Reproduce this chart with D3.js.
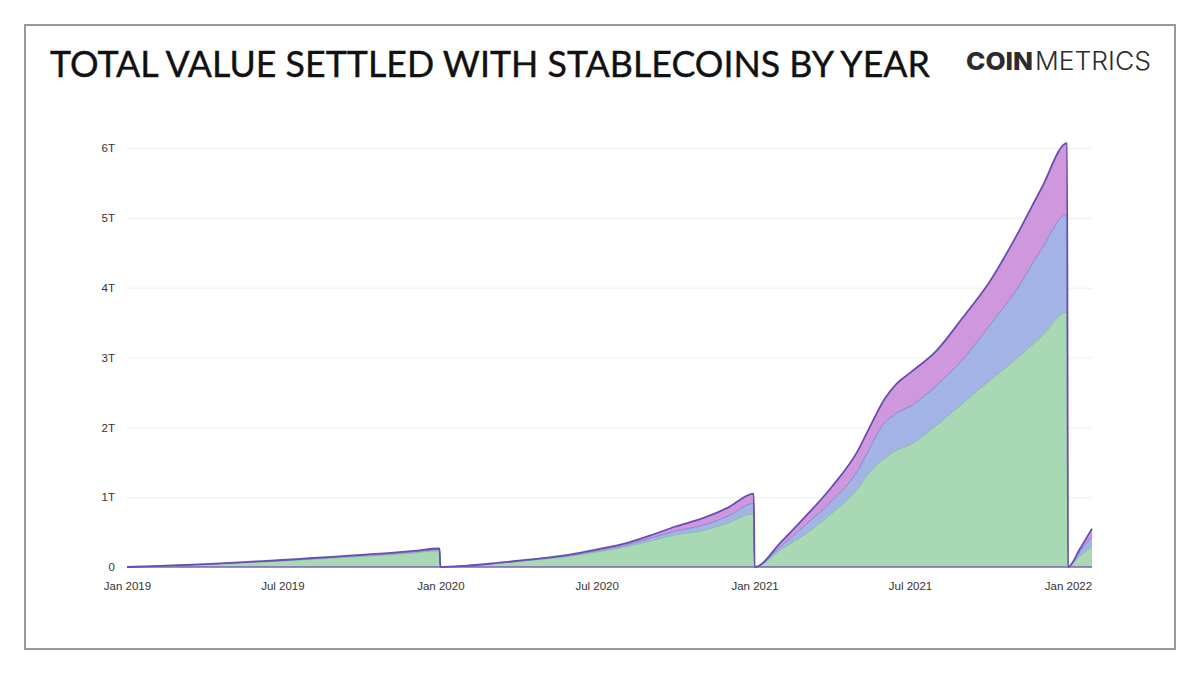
<!DOCTYPE html>
<html>
<head>
<meta charset="utf-8">
<script src="https://cdn.jsdelivr.net/npm/d3@7"></script>
<style>
  body { margin: 0; background: #fff; }
  .axis text { font-family: "Liberation Sans", Arial, sans-serif; font-size: 11.5px; fill: #333; }
  .axis .domain { display: none; }
  .grid line { stroke: #efefef; }
  .grid .domain { display: none; }
</style>
</head>
<body>
<div id="chart"></div>
<script>
// values, cumulative within each year (trillions USD)
let dates = [
    '2019-01-01', '2019-02-01', '2019-03-01', '2019-04-01', '2019-05-01', '2019-06-01', '2019-07-01',
    '2019-08-01', '2019-09-01', '2019-10-01', '2019-11-01', '2019-12-01', '2019-12-31',
    '2020-01-01', '2020-02-01', '2020-03-01', '2020-04-01', '2020-05-01', '2020-06-01', '2020-07-01',
    '2020-08-01', '2020-09-01', '2020-10-01', '2020-11-01', '2020-12-01', '2020-12-31',
    '2021-01-01', '2021-02-01', '2021-03-01', '2021-04-01', '2021-05-01', '2021-05-15', '2021-06-01',
    '2021-06-15', '2021-07-01', '2021-08-01', '2021-09-01', '2021-10-01', '2021-11-01', '2021-12-01', '2021-12-31',
    '2022-01-01', '2022-01-15', '2022-01-29'
];

let greenSeries = [
    0, 0.009, 0.02, 0.033, 0.05, 0.068, 0.085, 0.107, 0.129, 0.151, 0.173, 0.2, 0.232,
    0, 0.018, 0.044, 0.078, 0.112, 0.155, 0.215, 0.28, 0.37, 0.46, 0.52, 0.63, 0.76,
    0, 0.25, 0.47, 0.77, 1.12, 1.36, 1.55, 1.67, 1.75, 2.03, 2.35, 2.66, 2.97, 3.30, 3.65,
    0, 0.16, 0.29
];

let blueSeries = [
    0, 0.0015, 0.002, 0.003, 0.005, 0.006, 0.008, 0.009, 0.011, 0.012, 0.014, 0.015, 0.016,
    0, 0.001, 0.003, 0.006, 0.009, 0.013, 0.018, 0.025, 0.04, 0.055, 0.075, 0.10, 0.15,
    0, 0.05, 0.13, 0.18, 0.26, 0.34, 0.51, 0.53, 0.55, 0.57, 0.63, 0.79, 0.98, 1.25, 1.40,
    0, 0.06, 0.15
];

let purpleSeries = [
    0, 0.0015, 0.003, 0.004, 0.005, 0.006, 0.007, 0.009, 0.010, 0.012, 0.013, 0.015, 0.017,
    0, 0.001, 0.003, 0.006, 0.009, 0.012, 0.017, 0.025, 0.04, 0.065, 0.10, 0.12, 0.14,
    0, 0.06, 0.12, 0.20, 0.28, 0.30, 0.34, 0.42, 0.48, 0.50, 0.60, 0.62, 0.77, 0.87, 1.02,
    0, 0.04, 0.11
];

let yTicks = [0, 1, 2, 3, 4, 5, 6];
let xTicks = ['2019-01-01', '2019-07-01', '2020-01-01', '2020-07-01', '2021-01-01', '2021-07-01', '2022-01-01'];

let seriesKeys = ['green', 'blue', 'purple'];
let fills = { green: '#a8d9b4', blue: '#a3b3e6', purple: '#cf98dc' };
let edges = { green: '#86bf98', blue: '#7f8ad0', purple: '#6a4cb4' };

let config = {
    svg: { width: 1200, height: 674 },
    plot: { left: 127, right: 1092, top: 148, bottom: 567 }
};

let parseDate = d3.timeParse('%Y-%m-%d');

let rows = dates.map((d, i) => {
    return {
        date: parseDate(d),
        green: greenSeries[i],
        blue: blueSeries[i],
        purple: purpleSeries[i]
    };
});

let svg = d3.select('#chart')
    .append('svg')
        .attr('width', config.svg.width)
        .attr('height', config.svg.height);

// frame
svg.append('rect')
    .attr('x', 25)
    .attr('y', 25)
    .attr('width', 1150)
    .attr('height', 624)
    .attr('fill', '#fff')
    .attr('stroke', '#9a9a9a')
    .attr('stroke-width', 2);

// title + logo
svg.append('text')
    .attr('x', 50)
    .attr('y', 77)
    .attr('textLength', 880)
    .attr('lengthAdjust', 'spacingAndGlyphs')
    .style('font-family', 'Lato, sans-serif')
    .style('font-size', '37px')
    .style('fill', '#111')
    .style('stroke', '#111')
    .style('stroke-width', 0.4)
    .text('TOTAL VALUE SETTLED WITH STABLECOINS BY YEAR');

svg.append('text')
    .attr('x', 966)
    .attr('y', 70)
    .attr('textLength', 67)
    .attr('lengthAdjust', 'spacingAndGlyphs')
    .style('font-family', 'Inter, sans-serif')
    .style('font-weight', 800)
    .style('font-size', '25px')
    .style('fill', '#2b2b30')
    .text('COIN');

svg.append('text')
    .attr('x', 1035)
    .attr('y', 70)
    .attr('textLength', 116)
    .attr('lengthAdjust', 'spacingAndGlyphs')
    .style('font-family', 'Inter, sans-serif')
    .style('font-weight', 300)
    .style('font-size', '25px')
    .style('fill', '#2b2b30')
    .text('METRICS');

let x = d3.scaleTime()
    .domain([parseDate('2019-01-01'), parseDate('2022-01-29')])
    .range([config.plot.left, config.plot.right]);

let y = d3.scaleLinear()
    .domain([0, 6])
    .range([config.plot.bottom, config.plot.top]);

let plotWidth = config.plot.right - config.plot.left;

// gridlines
svg.append('g')
    .attr('class', 'grid')
    .attr('transform', translate(config.plot.left, 0))
    .call(d3.axisLeft(y).tickValues(yTicks.slice(1)).tickSize(-plotWidth).tickFormat(''));

// faint watermark
svg.append('text')
    .attr('x', 990)
    .attr('y', 520)
    .attr('text-anchor', 'middle')
    .style('font-family', 'Lato, sans-serif')
    .style('font-size', '80px')
    .style('fill', 'none')
    .style('stroke', 'rgba(110,160,120,0.12)')
    .style('stroke-width', 3)
    .text('CM');

let stack = d3.stack().keys(seriesKeys);
let layers = stack(rows);

let area = d3.area()
    .x((d) => x(d.data.date))
    .y0((d) => y(d[0]))
    .y1((d) => y(d[1]))
    .curve(d3.curveMonotoneX);

let topLine = d3.line()
    .x((d) => x(d.data.date))
    .y((d) => y(d[1]))
    .curve(d3.curveMonotoneX);

let plot = svg.append('g').attr('id', 'plot');

plot.selectAll('.layer')
    .data(layers)
    .enter()
    .append('path')
        .attr('class', 'layer')
        .attr('d', area)
        .style('fill', (d) => fills[d.key]);

// baseline
plot.append('line')
    .attr('x1', config.plot.left)
    .attr('x2', config.plot.right)
    .attr('y1', y(0))
    .attr('y2', y(0))
    .style('stroke', '#7a62b8')
    .style('stroke-width', 1.5);

plot.selectAll('.edge')
    .data(layers)
    .enter()
    .append('path')
        .attr('class', 'edge')
        .attr('d', topLine)
        .style('fill', 'none')
        .style('stroke', (d) => edges[d.key])
        .style('stroke-width', (d) => d.key === 'purple' ? 1.8 : 1);

// y axis labels
svg.append('g')
    .attr('class', 'axis axis--y')
    .attr('transform', translate(config.plot.left, 0))
    .call(d3.axisLeft(y)
        .tickValues(yTicks)
        .tickSize(0)
        .tickPadding(12)
        .tickFormat((d) => d === 0 ? '0' : d + 'T'));

// x axis labels
svg.append('g')
    .attr('class', 'axis axis--x')
    .attr('transform', translate(0, config.plot.bottom))
    .call(d3.axisBottom(x)
        .tickValues(xTicks.map(parseDate))
        .tickSize(0)
        .tickPadding(15)
        .tickFormat(d3.timeFormat('%b %Y')));

// helper method to make translating easier
function translate(x, y) {
    return 'translate(' + x + ',' + y + ')';
}
</script>
</body>
</html>
